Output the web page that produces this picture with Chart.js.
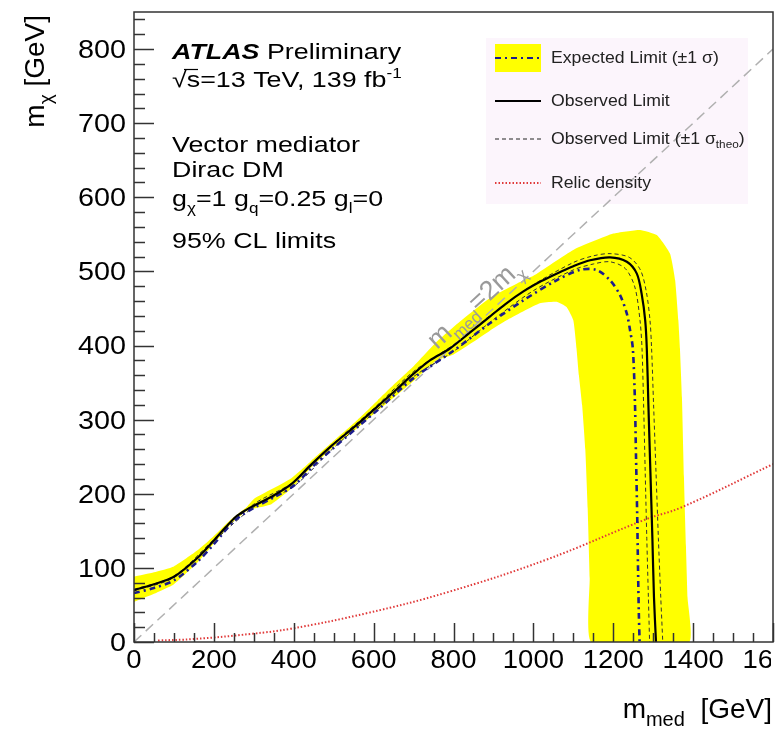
<!DOCTYPE html>
<html>
<head>
<meta charset="utf-8">
<script src="https://cdn.jsdelivr.net/npm/chart.js@4.4.0/dist/chart.umd.min.js"></script>
<style>
  html, body { margin: 0; padding: 0; background: #fff; }
  canvas { display: block; }
</style>
</head>
<body>
<canvas id="limits" width="777" height="730"></canvas>
<script>
const FONT = '"Liberation Sans", Arial, Helvetica, sans-serif';

// axis ticks (GeV)
const xTickLabels = [0, 200, 400, 600, 800, 1000, 1200, 1400, 1600];
const yTickLabels = [0, 100, 200, 300, 400, 500, 600, 700, 800];

// [m_med, m_chi]
const observedLimit = [
  [0, 70], [50, 78], [100, 88], [160, 114], [200, 137], [230, 155], [255, 169], [280, 178],
  [300, 184], [344, 196], [394, 213], [443, 239], [493, 264], [560, 294], [610, 318],
  [660, 342], [700, 362], [741, 380], [791, 396], [840, 417], [891, 439], [930, 456],
  [975, 473], [1020, 487], [1058, 497], [1100, 507], [1142, 515], [1192, 519], [1234, 513],
  [1259, 497], [1271, 470], [1280, 434], [1284, 396], [1288, 320], [1293, 230], [1298, 140],
  [1302, 60], [1307, 0]
];
const expectedLimit = [
  [0, 66], [50, 73], [100, 83], [160, 109], [200, 132], [250, 163], [300, 181], [350, 195],
  [400, 211], [450, 238], [500, 262], [560, 290], [610, 313], [700, 356], [800, 393],
  [891, 430], [975, 461], [1058, 488], [1117, 502], [1158, 502], [1192, 488], [1217, 468],
  [1234, 443], [1242, 421], [1249, 396], [1254, 330], [1257, 250], [1260, 170], [1262, 100],
  [1264, 40], [1266, 0]
];
const theoUp = [
  [0, 71], [100, 89], [200, 138], [300, 186], [400, 216], [500, 268], [600, 315], [700, 365],
  [800, 401], [900, 444], [1000, 482], [1100, 512], [1150, 521], [1192, 524], [1240, 519],
  [1268, 502], [1283, 472], [1292, 434], [1296, 396], [1301, 320], [1307, 230], [1313, 140],
  [1319, 60], [1324, 0]
];
const theoDown = [
  [0, 69], [100, 87], [200, 136], [300, 182], [400, 210], [500, 262], [600, 309], [700, 358],
  [800, 392], [900, 435], [1000, 474], [1100, 502], [1150, 510], [1192, 513], [1230, 504],
  [1254, 479], [1267, 434], [1272, 396], [1276, 320], [1280, 230], [1284, 140], [1288, 60],
  [1291, 0]
];
// +-1 sigma expected band, traced as one closed outline
const expectedBand = [
  [0, 88], [50, 94], [100, 102], [160, 124], [200, 143], [240, 164], [280, 181], [300, 193],
  [344, 206], [394, 221], [443, 244], [493, 268], [560, 300], [610, 326], [660, 352],
  [700, 372], [758, 405], [800, 425], [891, 464], [975, 488], [1000, 494], [1100, 529],
  [1200, 551], [1267, 556], [1309, 549], [1342, 524], [1355, 488], [1363, 434], [1367, 396],
  [1372, 330], [1377, 223], [1382, 130], [1386, 60], [1390, 0],
  [1145, 0], [1141, 86], [1136, 180], [1130, 260], [1122, 320], [1114, 360], [1108, 396],
  [1100, 434], [1083, 452], [1058, 459], [1016, 457], [933, 434], [891, 420], [850, 405],
  [800, 388], [758, 380], [700, 352], [660, 334], [610, 312], [560, 289], [493, 260],
  [443, 235], [394, 207], [344, 186], [300, 180], [280, 176], [240, 158], [200, 133],
  [160, 108], [100, 78], [50, 65], [0, 54]
];
const relicDensity = [
  [60, 2], [150, 4], [294, 11], [394, 18], [584, 39], [784, 67], [1032, 111], [1284, 166],
  [1368, 181], [1600, 240]
];
const diagonal = [[0, 0], [1600, 800]];

const pts = (arr) => arr.map(([x, y]) => ({ x, y }));

function drawRuns(ctx, x, y, runs, opts = {}) {
  const sx = opts.sx || 1;
  ctx.save();
  ctx.translate(x, y);
  if (opts.rotate) ctx.rotate(opts.rotate);
  ctx.scale(sx, 1);
  ctx.fillStyle = opts.color || '#000';
  ctx.textBaseline = opts.baseline || 'alphabetic';
  ctx.textAlign = 'left';
  let total = 0;
  runs.forEach((r) => {
    ctx.font = `${r.style || ''} ${r.size}px ${FONT}`;
    total += ctx.measureText(r.t).width;
  });
  let cx = opts.align === 'right' ? -total : opts.align === 'center' ? -total / 2 : 0;
  runs.forEach((r) => {
    ctx.font = `${r.style || ''} ${r.size}px ${FONT}`;
    ctx.fillText(r.t, cx, r.dy || 0);
    cx += ctx.measureText(r.t).width;
  });
  ctx.restore();
}

const legendBox = { x: 486, y: 38, w: 262, h: 166 };

const atlasDecor = {
  id: 'atlasDecor',
  beforeDatasetsDraw(chart) {
    const ctx = chart.ctx;
    ctx.save();
    ctx.fillStyle = '#fcf5fc';
    ctx.fillRect(legendBox.x, legendBox.y, legendBox.w, legendBox.h);
    ctx.restore();
  },
  afterDatasetsDraw(chart) {
    const ctx = chart.ctx;
    const xs = chart.scales.x;
    const ys = chart.scales.y;
    const { left, right, top, bottom } = chart.chartArea;
    ctx.save();
    ctx.strokeStyle = '#333';
    ctx.lineWidth = 1.5;
    const xStep = (xTickLabels[1] - xTickLabels[0]) / 4;
    for (let v = xs.min; v <= xs.max + 0.1; v += xStep) {
      const px = Math.round(xs.getPixelForValue(v)) + 0.5;
      const len = xTickLabels.includes(v) ? 19 : 9;
      ctx.beginPath();
      ctx.moveTo(px, bottom);
      ctx.lineTo(px, bottom - len);
      ctx.stroke();
    }
    const yStep = (yTickLabels[1] - yTickLabels[0]) / 5;
    for (let v = ys.min; v <= ys.max + 0.1; v += yStep) {
      const py = Math.round(ys.getPixelForValue(v)) + 0.5;
      const len = yTickLabels.includes(Math.round(v)) ? 20 : 11;
      ctx.beginPath();
      ctx.moveTo(left, py);
      ctx.lineTo(left + len, py);
      ctx.stroke();
    }
    ctx.strokeRect(left, top, right - left, bottom - top);
    ctx.restore();
  },
  afterDraw(chart) {
    const ctx = chart.ctx;
    const xs = chart.scales.x;
    const ys = chart.scales.y;
    const { left, right, bottom } = chart.chartArea;

    // tick labels (the last x label is cut at the frame edge, as in the original crop)
    ctx.save();
    ctx.beginPath();
    ctx.rect(0, 0, right - 2, chart.height);
    ctx.clip();
    xTickLabels.forEach((v) => {
      drawRuns(ctx, xs.getPixelForValue(v), bottom + 26, [{ t: String(v), size: 25 }], { align: 'center', sx: 1.1 });
    });
    ctx.restore();
    yTickLabels.forEach((v) => {
      drawRuns(ctx, left - 8, ys.getPixelForValue(v) + 2, [{ t: String(v), size: 25 }], { align: 'right', baseline: 'middle', sx: 1.15 });
    });

    // axis titles
    drawRuns(ctx, 772, 718, [
      { t: 'm', size: 28 }, { t: 'med', size: 20, dy: 8 }, { t: '  [GeV]', size: 28 }
    ], { align: 'right' });
    drawRuns(ctx, 44, 15, [
      { t: 'm', size: 28 }, { t: 'χ', size: 19, dy: 8 }, { t: ' [GeV]', size: 28 }
    ], { align: 'right', rotate: -Math.PI / 2 });

    // ATLAS label block
    const ax = 172;
    const sx = 1.22;
    drawRuns(ctx, ax, 59, [
      { t: 'ATLAS', size: 22, style: 'italic bold' }, { t: ' Preliminary', size: 22 }
    ], { sx });
    drawRuns(ctx, ax, 87, [
      { t: '√s=13 TeV, 139 fb', size: 22 }, { t: '-1', size: 14, dy: -9 }
    ], { sx });
    ctx.save();
    ctx.strokeStyle = '#000';
    ctx.lineWidth = 1.2;
    ctx.beginPath();
    ctx.moveTo(ax + 12, 69.5);
    ctx.lineTo(ax + 26, 69.5);
    ctx.stroke();
    ctx.restore();
    drawRuns(ctx, ax, 152, [{ t: 'Vector mediator', size: 22 }], { sx });
    drawRuns(ctx, ax, 177, [{ t: 'Dirac DM', size: 22 }], { sx });
    drawRuns(ctx, ax, 206, [
      { t: 'g', size: 22 }, { t: 'χ', size: 14, dy: 7 }, { t: '=1 g', size: 22 },
      { t: 'q', size: 14, dy: 7 }, { t: '=0.25 g', size: 22 }, { t: 'l', size: 14, dy: 7 },
      { t: '=0', size: 22 }
    ], { sx });
    drawRuns(ctx, ax, 248, [{ t: '95% CL limits', size: 22 }], { sx });

    // diagonal label
    drawRuns(ctx, 437, 350, [
      { t: 'm', size: 27 }, { t: 'med', size: 17, dy: 8 }, { t: '=2m', size: 27 }, { t: 'χ', size: 17, dy: 8 }
    ], { rotate: -0.745, color: '#9a9a9a' });

    // legend samples and text
    const lx0 = 495;
    const lx1 = 541;
    ctx.save();
    ctx.fillStyle = '#ffff00';
    ctx.fillRect(lx0, 44, lx1 - lx0, 28);
    const sample = (y, color, width, dash) => {
      ctx.strokeStyle = color;
      ctx.lineWidth = width;
      ctx.setLineDash(dash);
      ctx.beginPath();
      ctx.moveTo(lx0, y);
      ctx.lineTo(lx1, y);
      ctx.stroke();
    };
    sample(58, '#1c1c8c', 2, [6, 4, 2, 4]);
    sample(101, '#000', 2, []);
    sample(139, '#222', 1, [4, 3]);
    sample(183, '#e03a3a', 2, [1.5, 2]);
    ctx.restore();
    const lt = 551;
    const ls = 16.5;
    const lo = { baseline: 'middle', color: '#222', sx: 1.07 };
    drawRuns(ctx, lt, 58, [{ t: 'Expected Limit (±1 σ)', size: ls }], lo);
    drawRuns(ctx, lt, 101, [{ t: 'Observed Limit', size: ls }], lo);
    drawRuns(ctx, lt, 139, [
      { t: 'Observed Limit (±1 σ', size: ls }, { t: 'theo', size: 11, dy: 6 }, { t: ')', size: ls }
    ], lo);
    drawRuns(ctx, lt, 183, [{ t: 'Relic density', size: ls }], lo);
  }
};

new Chart(document.getElementById('limits'), {
  type: 'scatter',
  data: {
    datasets: [
      {
        label: 'Observed Limit',
        data: pts(observedLimit),
        showLine: true,
        borderColor: '#000',
        borderWidth: 2.2,
        tension: 0.3,
        order: 1
      },
      {
        label: 'Expected Limit',
        data: pts(expectedLimit),
        showLine: true,
        borderColor: '#1c1c8c',
        borderWidth: 2.6,
        borderDash: [6, 4, 2, 4],
        tension: 0.3,
        order: 2
      },
      {
        label: 'Observed +1 sigma theo',
        data: pts(theoUp),
        showLine: true,
        borderColor: '#333',
        borderWidth: 1,
        borderDash: [4, 3],
        tension: 0.3,
        order: 3
      },
      {
        label: 'Observed -1 sigma theo',
        data: pts(theoDown),
        showLine: true,
        borderColor: '#333',
        borderWidth: 1,
        borderDash: [4, 3],
        tension: 0.3,
        order: 3
      },
      {
        label: 'Relic density',
        data: pts(relicDensity),
        showLine: true,
        borderColor: '#e03a3a',
        borderWidth: 2,
        borderDash: [1.5, 2],
        tension: 0.4,
        order: 4
      },
      {
        label: 'm_med = 2 m_chi',
        data: pts(diagonal),
        showLine: true,
        borderColor: '#b0b0b0',
        borderWidth: 1.5,
        borderDash: [10, 6],
        order: 5
      },
      {
        label: 'Expected +-1 sigma',
        data: pts(expectedBand),
        showLine: true,
        borderWidth: 0,
        borderColor: 'rgba(0,0,0,0)',
        backgroundColor: '#ffff00',
        fill: 'shape',
        tension: 0.15,
        order: 6
      }
    ]
  },
  options: {
    responsive: false,
    animation: false,
    devicePixelRatio: 1,
    layout: { padding: { left: 134, right: 4, top: 12, bottom: 88 } },
    elements: { point: { radius: 0, hoverRadius: 0 } },
    scales: {
      x: { type: 'linear', min: 0, max: 1600, display: false },
      y: { type: 'linear', min: 0, max: 850, display: false }
    },
    plugins: {
      legend: { display: false },
      tooltip: { enabled: false }
    }
  },
  plugins: [atlasDecor]
});
</script>
</body>
</html>
